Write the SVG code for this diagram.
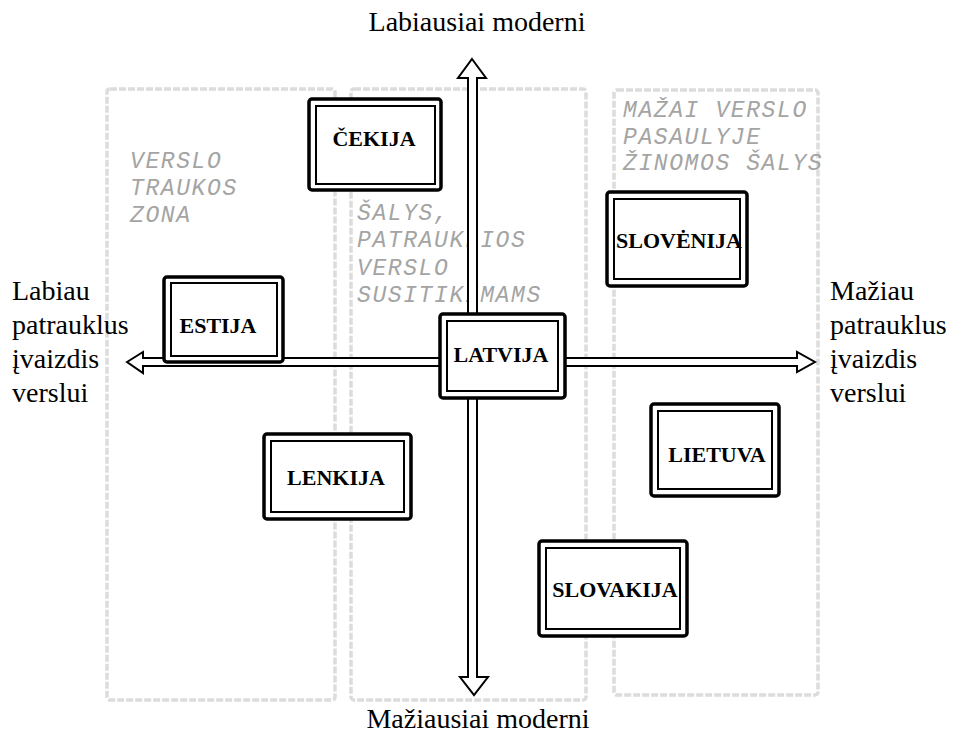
<svg xmlns="http://www.w3.org/2000/svg" width="956" height="734" viewBox="0 0 956 734">
<style>
.zone{fill:none;stroke:#dcdcdc;stroke-width:3.5;stroke-dasharray:7 2}
.zt{font-family:"Liberation Mono","Courier New",monospace;font-style:italic;font-size:23px;letter-spacing:1.6px;fill:#a4a4a4}
.ax{fill:#fff;stroke:#000;stroke-width:2;stroke-linejoin:miter}
.ob{fill:#fff;stroke:#000;stroke-width:3.5}
.ib{fill:#fff;stroke:#000;stroke-width:2}
.nl{font-family:"Liberation Serif","Times New Roman",serif;font-weight:bold;font-size:22px;fill:#000;text-anchor:middle}
.lb{font-family:"Liberation Serif","Times New Roman",serif;font-size:28px;fill:#000}
</style>
<rect width="956" height="734" fill="#fff"/>
<g id="zones">
<rect class="zone" x="107" y="89" width="228" height="611" rx="3"/>
<rect class="zone" x="351" y="89" width="235" height="611" rx="3"/>
<rect class="zone" x="614" y="90" width="204" height="605" rx="3"/>
</g>
<g id="zone-labels">
<text class="zt" x="130" y="168">VERSLO</text>
<text class="zt" x="130" y="195">TRAUKOS</text>
<text class="zt" x="130" y="222">ZONA</text>
<text class="zt" x="357" y="220">ŠALYS,</text>
<text class="zt" x="357" y="247">PATRAUKLIOS</text>
<text class="zt" x="357" y="275">VERSLO</text>
<text class="zt" x="357" y="302">SUSITIKIMAMS</text>
<text class="zt" x="623" y="117">MAŽAI VERSLO</text>
<text class="zt" x="623" y="143.5">PASAULYJE</text>
<text class="zt" x="623" y="170">ŽINOMOS ŠALYS</text>
</g>
<g id="connectors">
<polygon class="ax" points="472,59 486,78 477,78 477,677 488,677 474,695 460,677 468,677 468,78 458,78"/>
<polygon class="ax" points="127,362 143,352 143,358 797,358 797,352 815,362 797,372 797,366 143,366 143,373"/>
</g>
<g id="n-cekija">
<rect class="ob" x="309" y="99" width="132" height="91" rx="3"/>
<rect class="ib" x="316" y="106" width="119" height="78"/>
<text class="nl" x="374" y="146">ČEKIJA</text>
</g>
<g id="n-estija">
<rect class="ob" x="164" y="277" width="119" height="85" rx="3"/>
<rect class="ib" x="171" y="283" width="106" height="73"/>
<text class="nl" x="218" y="333">ESTIJA</text>
</g>
<g id="n-latvija">
<rect class="ob" x="440" y="314" width="125" height="84" rx="3"/>
<rect class="ib" x="447" y="321" width="111" height="70"/>
<text class="nl" x="501" y="362">LATVIJA</text>
</g>
<g id="n-slovenija">
<rect class="ob" x="607" y="192" width="140" height="94" rx="3"/>
<rect class="ib" x="614" y="199" width="126" height="80"/>
<text class="nl" x="679" y="248">SLOVĖNIJA</text>
</g>
<g id="n-lenkija">
<rect class="ob" x="264" y="434" width="147" height="85" rx="3"/>
<rect class="ib" x="271" y="441" width="133" height="71"/>
<text class="nl" x="336" y="485">LENKIJA</text>
</g>
<g id="n-lietuva">
<rect class="ob" x="651" y="404" width="128" height="92" rx="3"/>
<rect class="ib" x="658" y="411" width="114" height="78"/>
<text class="nl" x="717" y="462">LIETUVA</text>
</g>
<g id="n-slovakija">
<rect class="ob" x="539" y="541" width="148" height="95" rx="3"/>
<rect class="ib" x="546" y="548" width="134" height="81"/>
<text class="nl" x="615" y="597">SLOVAKIJA</text>
</g>
<g id="axis-labels">
<text class="lb" x="477" y="31" text-anchor="middle">Labiausiai moderni</text>
<text class="lb" x="478" y="728" text-anchor="middle" font-size="27">Mažiausiai moderni</text>
<text class="lb" x="12" y="300">Labiau</text>
<text class="lb" x="12" y="334">patrauklus</text>
<text class="lb" x="12" y="368">įvaizdis</text>
<text class="lb" x="12" y="402">verslui</text>
<text class="lb" x="830" y="300">Mažiau</text>
<text class="lb" x="830" y="334">patrauklus</text>
<text class="lb" x="830" y="368">įvaizdis</text>
<text class="lb" x="830" y="402">verslui</text>
</g>
</svg>
